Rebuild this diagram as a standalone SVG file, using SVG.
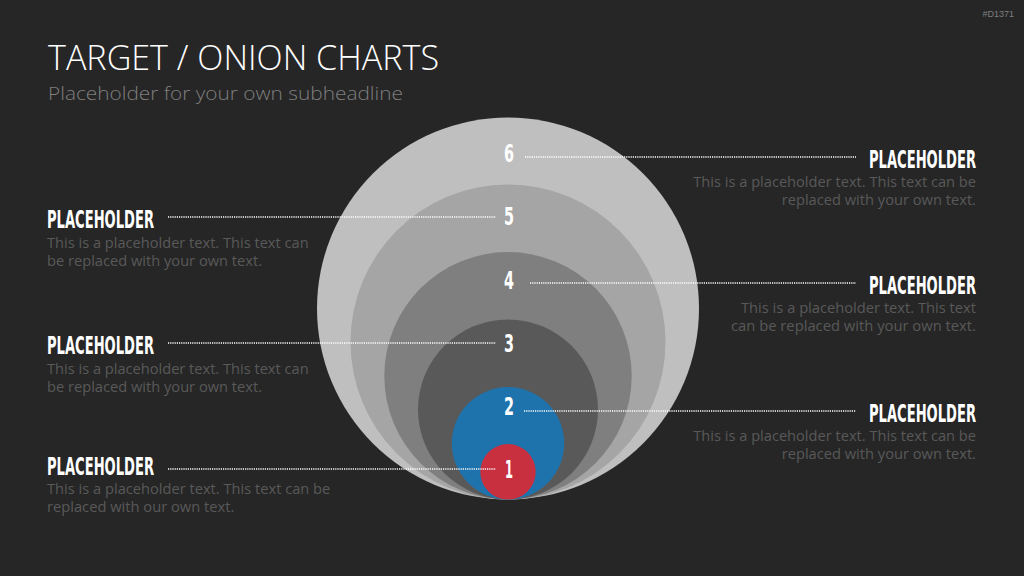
<svg xmlns="http://www.w3.org/2000/svg" width="1024" height="576" viewBox="0 0 1024 576">
  <style>
    .title{font-family:"Open Sans","Liberation Sans",sans-serif;font-weight:300;font-size:34px;fill:#ffffff}
    .sub{font-family:"Open Sans","Liberation Sans",sans-serif;font-weight:300;font-size:19px;fill:#7f7f7f}
    .id{font-family:"Liberation Sans",sans-serif;font-size:9px;fill:#7f7f7f}
    .head{font-family:"Liberation Sans Narrow","DejaVu Sans Condensed","DejaVu Sans",sans-serif;font-weight:bold;font-stretch:condensed;font-size:24px;fill:#ffffff}
    .num{font-family:"Liberation Sans Narrow","DejaVu Sans Condensed","DejaVu Sans",sans-serif;font-weight:bold;font-stretch:condensed;font-size:24px;fill:#ffffff}
    .body{font-family:"Open Sans","Liberation Sans",sans-serif;font-size:14px;fill:#595959}
    .dot{stroke:#ffffff;stroke-width:1.5;stroke-dasharray:1.2 1;fill:none}
  </style>
  <rect width="1024" height="576" fill="#262626"/>
  <text class="id" x="1014" y="17" text-anchor="end">#D1371</text>
  <text class="title" x="48" y="70" textLength="391" lengthAdjust="spacingAndGlyphs">TARGET / ONION CHARTS</text>
  <text class="sub" x="48" y="100" textLength="355" lengthAdjust="spacingAndGlyphs">Placeholder for your own subheadline</text>

  <g id="rings">
    <g id="ring6"><circle cx="508" cy="308.5" r="191" fill="#bfbfbf"/></g>
    <g id="ring5"><circle cx="508" cy="342" r="157.5" fill="#a5a5a5"/></g>
    <g id="ring4"><circle cx="508" cy="375.8" r="123.7" fill="#7f7f7f"/></g>
    <g id="ring3"><circle cx="508" cy="409.5" r="90" fill="#595959"/></g>
    <g id="ring2"><circle cx="508" cy="443.3" r="56.2" fill="#1f73ad"/></g>
    <g id="ring1"><circle cx="508" cy="471.8" r="27.7" fill="#c8303f"/></g>
  </g>

  <g id="connectors">
    <line class="dot" x1="525" y1="157" x2="856" y2="157"/>
    <line class="dot" x1="168" y1="217" x2="496" y2="217"/>
    <line class="dot" x1="530" y1="283" x2="856" y2="283"/>
    <line class="dot" x1="168" y1="343" x2="496" y2="343"/>
    <line class="dot" x1="524" y1="411" x2="856" y2="411"/>
    <line class="dot" x1="168" y1="469" x2="496" y2="469"/>
  </g>

  <g id="numbers">
    <text class="num" x="509" y="162" text-anchor="middle" textLength="10" lengthAdjust="spacingAndGlyphs">6</text>
    <text class="num" x="509" y="225" text-anchor="middle" textLength="10" lengthAdjust="spacingAndGlyphs">5</text>
    <text class="num" x="509" y="288.5" text-anchor="middle" textLength="10" lengthAdjust="spacingAndGlyphs">4</text>
    <text class="num" x="509" y="351.5" text-anchor="middle" textLength="10" lengthAdjust="spacingAndGlyphs">3</text>
    <text class="num" x="509" y="415" text-anchor="middle" textLength="10" lengthAdjust="spacingAndGlyphs">2</text>
    <text class="num" x="509" y="478" text-anchor="middle" textLength="8" lengthAdjust="spacingAndGlyphs">1</text>
  </g>

  <g id="label-left-1">
    <text class="head" x="47" y="228" textLength="107" lengthAdjust="spacingAndGlyphs">PLACEHOLDER</text>
    <text class="body" x="47" y="247.5" textLength="261.6" lengthAdjust="spacingAndGlyphs">This is a placeholder text. This text can</text>
    <text class="body" x="47" y="265.5" textLength="215" lengthAdjust="spacingAndGlyphs">be replaced with your own text.</text>
  </g>
  <g id="label-left-2">
    <text class="head" x="47" y="354" textLength="107" lengthAdjust="spacingAndGlyphs">PLACEHOLDER</text>
    <text class="body" x="47" y="373.5" textLength="261.6" lengthAdjust="spacingAndGlyphs">This is a placeholder text. This text can</text>
    <text class="body" x="47" y="391.5" textLength="215" lengthAdjust="spacingAndGlyphs">be replaced with your own text.</text>
  </g>
  <g id="label-left-3">
    <text class="head" x="47" y="474.5" textLength="107" lengthAdjust="spacingAndGlyphs">PLACEHOLDER</text>
    <text class="body" x="47" y="493.5" textLength="283.3" lengthAdjust="spacingAndGlyphs">This is a placeholder text. This text can be</text>
    <text class="body" x="47" y="511.5" textLength="187.3" lengthAdjust="spacingAndGlyphs">replaced with our own text.</text>
  </g>
  <g id="label-right-1">
    <text class="head" transform="translate(869 168) scale(0.7 1)" x="0" y="0" textLength="152.9" lengthAdjust="spacingAndGlyphs">PLACEHOLDER</text>
    <text class="body" x="976" y="187" text-anchor="end" textLength="282.7" lengthAdjust="spacingAndGlyphs">This is a placeholder text. This text can be</text>
    <text class="body" x="976" y="205" text-anchor="end" textLength="194.3" lengthAdjust="spacingAndGlyphs">replaced with your own text.</text>
  </g>
  <g id="label-right-2">
    <text class="head" transform="translate(869 294) scale(0.7 1)" x="0" y="0" textLength="152.9" lengthAdjust="spacingAndGlyphs">PLACEHOLDER</text>
    <text class="body" x="976" y="313" text-anchor="end" textLength="235" lengthAdjust="spacingAndGlyphs">This is a placeholder text. This text</text>
    <text class="body" x="976" y="331" text-anchor="end" textLength="245" lengthAdjust="spacingAndGlyphs">can be replaced with your own text.</text>
  </g>
  <g id="label-right-3">
    <text class="head" transform="translate(869 422) scale(0.7 1)" x="0" y="0" textLength="152.9" lengthAdjust="spacingAndGlyphs">PLACEHOLDER</text>
    <text class="body" x="976" y="441" text-anchor="end" textLength="282.7" lengthAdjust="spacingAndGlyphs">This is a placeholder text. This text can be</text>
    <text class="body" x="976" y="459" text-anchor="end" textLength="194.3" lengthAdjust="spacingAndGlyphs">replaced with your own text.</text>
  </g>
</svg>
